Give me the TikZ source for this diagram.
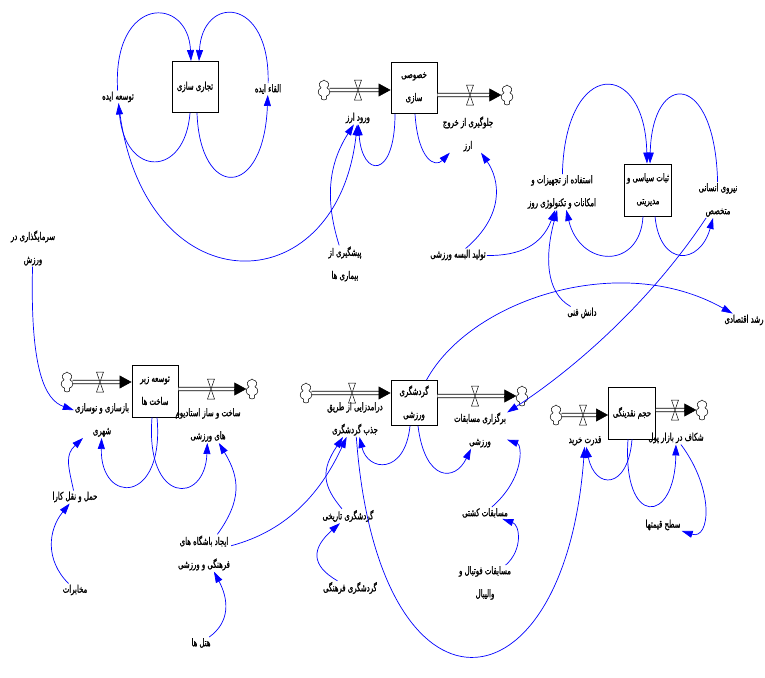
\documentclass[tikz,border=0pt]{standalone}
\usepackage{fontspec}
\usetikzlibrary{arrows.meta,shapes.symbols}
\TeXXeTstate=1
\newfontfamily\fa[Script=Arabic,FakeStretch=0.66,FakeBold=1.2]{DejaVu Sans}
\newcommand{\rl}[1]{\beginR #1\endR}
\tikzset{
  lbl/.style={font=\fa\fontsize{10.5}{23}\selectfont, align=center, inner sep=1pt, text=black},
  stock/.style={lbl, draw=black, line width=0.9pt, fill=white, inner sep=0pt},
  link/.style={draw=blue, line width=0.7pt, -{Triangle[length=11pt,width=7pt]}},
  pipe/.style={draw=black, double=white, double distance=2.6pt, line width=0.8pt},
  pipetip/.style={-{Triangle[length=12pt,width=13pt]}, line width=0.5pt, draw=black, fill=black},
  cloudn/.style={cloud, cloud puffs=7, aspect=0.6, draw=black, line width=0.5pt, fill=white, minimum width=12pt, minimum height=20pt, inner sep=0pt},
  valve/.style={draw=black, line width=0.5pt, fill=white}
}
\begin{document}
\begin{tikzpicture}[x=1pt,y=-1pt]
\useasboundingbox (0,0) rectangle (765,677);
\fill[white] (0,0) rectangle (765,677);

% ---------- stocks ----------
\node[stock, minimum width=46pt, minimum height=51pt] (s1) at (195,87) {\rl{تجاری سازی}};
\node[stock, minimum width=46pt, minimum height=51pt] (s2) at (414,88) {\rl{خصوصی}\\\rl{سازی}};
\node[stock, minimum width=47pt, minimum height=52pt] (s3) at (648,190) {\rl{ثبات سیاسی و}\\\rl{مدیریتی}};
\node[stock, minimum width=46pt, minimum height=52pt] (s4) at (155,391) {\rl{توسعه زیر}\\\rl{ساخت ها}};
\node[stock, minimum width=46pt, minimum height=45pt] (s5) at (414,403) {\rl{گردشگری}\\\rl{ورزشی}};
\node[stock, minimum width=47pt, minimum height=52pt] (s6) at (632,413) {\rl{حجم نقدینگی}};

% ---------- clouds ----------
\node[cloudn] (c2a) at (324,90) {};
\node[cloudn] (c2b) at (507,95) {};
\node[cloudn] (c4a) at (67,382) {};
\node[cloudn] (c4b) at (252,389) {};
\node[cloudn] (c5a) at (306,393) {};
\node[cloudn] (c5b) at (522,396) {};
\node[cloudn] (c6a) at (556,415) {};
\node[cloudn] (c6b) at (702,410) {};

% ---------- pipes ----------
\draw[pipe, shorten >=11pt] (c2a.east) -- (s2.west |- c2a);
\draw[pipetip] ([xshift=-12pt]s2.west |- c2a) -- (s2.west |- c2a);
\draw[pipe, shorten >=11pt] (s2.east |- c2b) -- (c2b.west);
\draw[pipetip] ([xshift=-12pt]c2b.west) -- (c2b.west);
\draw[pipe, shorten >=11pt] (c4a.east) -- (s4.west |- c4a);
\draw[pipetip] ([xshift=-12pt]s4.west |- c4a) -- (s4.west |- c4a);
\draw[pipe, shorten >=11pt] (s4.east |- c4b) -- (c4b.west);
\draw[pipetip] ([xshift=-12pt]c4b.west) -- (c4b.west);
\draw[pipe, shorten >=11pt] (c5a.east) -- (s5.west |- c5a);
\draw[pipetip] ([xshift=-12pt]s5.west |- c5a) -- (s5.west |- c5a);
\draw[pipe, shorten >=11pt] (s5.east |- c5b) -- (c5b.west);
\draw[pipetip] ([xshift=-12pt]c5b.west) -- (c5b.west);
\draw[pipe, shorten >=11pt] (c6a.east) -- (s6.west |- c6a);
\draw[pipetip] ([xshift=-12pt]s6.west |- c6a) -- (s6.west |- c6a);
\draw[pipe, shorten >=11pt] (s6.east |- c6b) -- (c6b.west);
\draw[pipetip] ([xshift=-12pt]c6b.west) -- (c6b.west);

% ---------- valves ----------
\foreach \n/\x/\y in {v2a/358/90, v2b/470/95, v4a/100/382, v4b/211/389, v5a/352/393, v5b/475/396, v6a/583/415, v6b/675/410}{
  \coordinate (\n) at (\x,\y);
  \filldraw[valve] (\n) +(-3.5,-10) -- +(3.5,-10) -- +(-3.5,10) -- +(3.5,10) -- cycle;
}

% ---------- labels ----------
\node[lbl] (tosee) at (118,97) {\rl{توسعه ایده}};
\node[lbl] (elqa) at (268,89) {\rl{القاء ایده}};
\node[lbl] (vorood) at (358,118) {\rl{ورود ارز}};
\node[lbl] (jolo) at (468,134) {\rl{جلوگیری از خروج}\\\rl{ارز}};
\node[lbl] (estef) at (562,192) {\rl{استفاده از تجهیزات و}\\\rl{امکانات و تکنولوژی روز}};
\node[lbl] (niroo) at (718,200) {\rl{نیروی انسانی}\\\rl{متخصص}};
\node[lbl] (sarm) at (33,248) {\rl{سرمایگذاری در}\\\rl{ورزش}};
\node[lbl] (pish) at (345,264) {\rl{پیشگیری از}\\\rl{بیماری ها}};
\node[lbl] (tolid) at (458,255) {\rl{تولید البسه ورزشی}};
\node[lbl] (danesh) at (582,313) {\rl{دانش فنی}};
\node[lbl] (roshd) at (744,320) {\rl{رشد اقتصادی}};
\node[lbl] (baz) at (102,420) {\rl{بازسازی و نوسازی}\\\rl{شهری}};
\node[lbl] (sakht) at (208,425) {\rl{ساخت و ساز استادیوم}\\\rl{های ورزشی}};
\node[lbl] (daram) at (355,419) {\rl{درامدزایی از طریق}\\\rl{جذب گردشگری}};
\node[lbl] (bargoz) at (480,430) {\rl{برگزاری مسابقات}\\\rl{ورزشی}};
\node[lbl] (ghodrat) at (585,441) {\rl{قدرت خرید}};
\node[lbl] (shekaf) at (676,438) {\rl{شکاف در بازار پول}};
\node[lbl] (sath) at (663,525) {\rl{سطح قیمتها}};
\node[lbl] (haml) at (75,497) {\rl{حمل و نقل کارا}};
\node[lbl] (mokh) at (75,590) {\rl{مخابرات}};
\node[lbl] (ijad) at (204,553) {\rl{ایجاد باشگاه های}\\\rl{فرهنگی و ورزشی}};
\node[lbl] (tarikhi) at (348,516) {\rl{گردشگری تاریخی}};
\node[lbl] (farhang) at (350,588) {\rl{گردشگری فرهنگی}};
\node[lbl] (hotel) at (201,643) {\rl{هتل ها}};
\node[lbl] (keshti) at (485,513) {\rl{مسابقات کشتی}};
\node[lbl] (football) at (485,583) {\rl{مسابقات فوتبال و}\\\rl{والیبال}};

% ---------- causal links ----------
\draw[link] ([shift={(-3,-15)}]tosee) .. controls (112,-5) and (188,-5) .. ([xshift=-4pt]s1.north);
\draw[link] ([shift={(-1,-15)}]elqa) .. controls (270,-5) and (202,-5) .. ([xshift=4pt]s1.north);
\draw[link] ([xshift=-5pt]s1.south) .. controls (185,178) and (125,178) .. ([shift={(2,16)}]tosee);
\draw[link] ([xshift=2pt]s1.south) .. controls (200,200) and (264,200) .. ([shift={(-1,14)}]elqa);
\draw[link] ([shift={(3,23)}]tosee) .. controls (140,308) and (337,308) .. ([shift={(-8,12)}]vorood);
\draw[link] ([shift={(-10,-26)}]pish) .. controls (325,200) and (328,165) .. ([shift={(-18,14)}]vorood);
\draw[link] ([xshift=-19pt]s2.south) .. controls (395,180) and (362,178) .. ([shift={(2,14)}]vorood);
\draw[link] ([xshift=1pt]s2.south) .. controls (418,160) and (435,168) .. ([shift={(-15,21)}]jolo);
\draw[link] ([shift={(32,-7)}]tolid) .. controls (505,215) and (500,180) .. ([shift={(26,21)}]jolo);
\draw[link] ([shift={(31,3)}]tolid) .. controls (520,256) and (542,245) .. ([shift={(-17,30)}]estef);
\draw[link] ([shift={(-14,-5)}]danesh) .. controls (545,292) and (545,255) .. ([shift={(-11,30)}]estef);
\draw[link] ([shift={(1,-25)}]estef) .. controls (565,58) and (645,58) .. ([xshift=-1pt]s3.north);
\draw[link] ([shift={(0,-23)}]niroo) .. controls (715,70) and (652,70) .. ([xshift=2pt]s3.north);
\draw[link] ([xshift=-5pt]s3.south) .. controls (640,270) and (580,268) .. ([shift={(11,30)}]estef);
\draw[link] ([xshift=7pt]s3.south) .. controls (660,268) and (700,265) .. ([shift={(-15,25)}]niroo);
\draw[link] ([shift={(-9,25)}]niroo) .. controls (645,310) and (565,375) .. ([shift={(29,-14)}]bargoz);
\draw[link] ([shift={(-23,-13)}]s5) .. controls (470,300) and (620,250) .. ([shift={(-22,-12)}]roshd);
\draw[link] ([shift={(-4,22)}]sarm) .. controls (30,370) and (45,400) .. ([shift={(-39,-8)}]baz);
\draw[link] ([shift={(-8,-13)}]haml) .. controls (68,465) and (65,455) .. ([shift={(-37,21)}]baz);
\draw[link] ([shift={(-12,-10)}]mokh) .. controls (45,560) and (48,530) .. ([shift={(-16,15)}]haml);
\draw[link] ([xshift=2pt]s4.south) .. controls (165,505) and (100,505) .. ([shift={(0,37)}]baz);
\draw[link] ([xshift=-3pt]s4.south) .. controls (145,505) and (205,505) .. ([shift={(-3,33)}]sakht);
\draw[link] ([shift={(28,-31)}]ijad) .. controls (242,500) and (240,478) .. ([shift={(26,33)}]sakht);
\draw[link] ([shift={(29,-5)}]ijad) .. controls (290,530) and (322,490) .. ([shift={(-19,30)}]daram);
\draw[link] ([shift={(12,-3)}]hotel) .. controls (230,622) and (229,600) .. ([shift={(23,32)}]ijad);
\draw[link] ([shift={(-30,-8)}]farhang) .. controls (310,565) and (312,548) .. ([shift={(-31,16)}]tarikhi);
\draw[link] ([shift={(-21,-13)}]tarikhi) .. controls (322,485) and (321,470) .. ([shift={(-33,37)}]daram);
\draw[link] ([xshift=-4pt]s5.south) .. controls (405,475) and (368,472) .. ([shift={(7,31)}]daram);
\draw[link] ([xshift=4pt]s5.south) .. controls (425,482) and (455,482) .. ([shift={(-16,30)}]bargoz);
\draw[link] ([shift={(26,-10)}]keshti) .. controls (525,478) and (522,445) .. ([shift={(31,-4)}]bargoz);
\draw[link] ([shift={(27,-6)}]football) .. controls (523,550) and (520,525) .. ([shift={(23,-5)}]keshti);
\draw[link] ([shift={(-2,26)}]daram) .. controls (378,735) and (565,720) .. ([shift={(-2,27)}]ghodrat);
\draw[link] (s6.south) .. controls (628,490) and (595,490) .. ([shift={(4,15)}]ghodrat);
\draw[link] ([xshift=-4pt]s6.south) .. controls (622,528) and (675,525) .. ([shift={(0,22)}]shekaf);
\draw[link] ([shift={(24,12)}]shekaf) .. controls (715,490) and (710,540) .. ([shift={(15,16)}]sath);
\end{tikzpicture}
\end{document}
